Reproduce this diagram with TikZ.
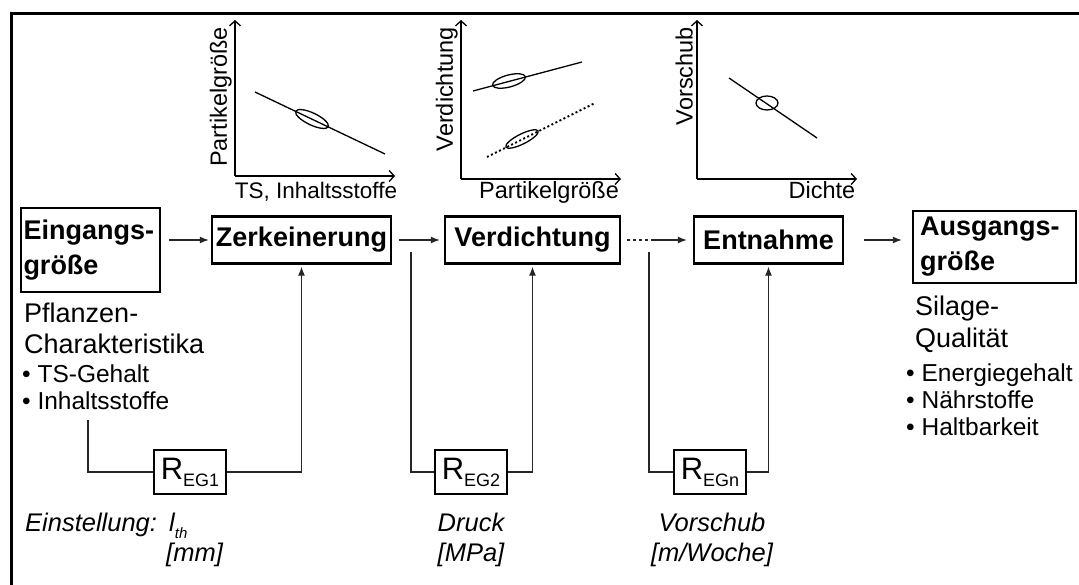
\documentclass[tikz,border=0pt]{standalone}
\usepackage{fontspec}
\setmainfont{Liberation Sans}
\usetikzlibrary{arrows.meta}
\newcommand{\fsz}[1]{\fontsize{#1}{#1}\selectfont}
\newcommand{\Rsub}[1]{{\fsz{31}R}\raisebox{-7pt}{\fsz{18}#1}}
\begin{document}
\begin{tikzpicture}[x=1pt,y=-1pt,
  blk/.style={draw, line width=2.4pt, inner sep=0pt, font=\bfseries\fontsize{27}{35}\selectfont},
  rbox/.style={draw, line width=2.4pt, minimum width=72pt, minimum height=44pt, inner sep=0pt},
  conn/.style={line width=1.2pt, draw=black!85},
  arr/.style={conn, -{Latex[length=9pt,width=7pt]}},
  axis/.style={line width=1.3pt, -{Straight Barb[length=5pt,width=11pt]}},
  curve/.style={line width=1.3pt},
  txt/.style={inner sep=0pt, font=\fsz{27}},
  small/.style={inner sep=0pt, font=\fsz{24.5}},
  ax/.style={inner sep=0pt, font=\fsz{23.5}},
  note/.style={inner sep=0pt, font=\fsz{25.5}\itshape},
]
\useasboundingbox (0,0) rectangle (1079,585);

% outer frame
\draw[line width=3pt] (11,600) -- (11,14) -- (1100,14);

% process blocks
\node[blk, minimum width=139pt, minimum height=84pt, text width=134pt, align=left] (ein) at (90.5,250) {Eingangs-\\größe};
\node[blk, minimum width=179pt, minimum height=47pt] (zer) at (301.5,240) {Zerkeinerung};
\node[blk, minimum width=175pt, minimum height=47pt] (ver) at (532.5,240) {Verdichtung};
\node[blk, minimum width=149pt, minimum height=47pt] (ent) at (768.5,240) {Entnahme};
\node[blk, minimum width=163pt, minimum height=72pt, text width=149pt, align=left] (aus) at (994.5,247) {Ausgangs-\\größe};

% main flow
\draw[arr, shorten <=8pt, shorten >=2pt] (ein.east |- zer.west) -- (zer.west);
\draw[arr, shorten <=7pt, shorten >=4pt] (zer.east) -- (ver.west);
\coordinate (mid) at (653,240);
\draw[conn, dash pattern=on 3pt off 3pt, shorten <=6pt] (ver.east) -- (mid);
\draw[arr, shorten >=6pt] (mid) -- (ent.west);
\draw[arr, shorten <=20pt, shorten >=10pt] (ent.east) -- (ent.east -| aus.west);

% input description
\node[txt, anchor=base west] (pfl) at (24,323) {Pflanzen-};
\node[txt, anchor=base west] (cha) at (24,353) {Charakteristika};
\node[small, anchor=base west] (ts) at (22,382) {• TS-Gehalt};
\node[small, anchor=base west] (inh) at (22,409) {• Inhaltsstoffe};

% output description
\node[txt, anchor=base west] (sil) at (915,316) {Silage-};
\node[txt, anchor=base west] (qua) at (915,347) {Qualität};
\node[small, anchor=base west] (en) at (906,381) {• Energiegehalt};
\node[small, anchor=base west] (na) at (906,408) {• Nährstoffe};
\node[small, anchor=base west] (ha) at (906,435) {• Haltbarkeit};

% control elements
\node[rbox] (r1) at (190,472) {\Rsub{EG1}};
\node[rbox] (r2) at (471,472) {\Rsub{EG2}};
\node[rbox] (r3) at (710,472) {\Rsub{EGn}};

\coordinate (s1) at (88,420);
\coordinate (s2) at (411,252);
\coordinate (s3) at (649,252);
\draw[conn] (s1) |- (r1.west);
\draw[arr, shorten >=2pt] (r1.east) -| (zer.south);
\draw[conn] (s2) |- (r2.west);
\draw[arr, shorten >=2pt] (r2.east) -| (ver.south);
\draw[conn] (s3) |- (r3.west);
\draw[arr, shorten >=2pt] (r3.east) -| (ent.south);

% settings
\node[note, anchor=base west] (set) at (25,531) {Einstellung:};
\node[note, anchor=base west] (lth) at (169,531) {l\raisebox{-7pt}{\fsz{15}th}};
\node[note, anchor=base west] (mm) at (166,561) {[mm]};
\node[note, anchor=base] (dru) at (471,531) {Druck};
\node[note, anchor=base] (mpa) at (471,561) {[MPa]};
\node[note, anchor=base] (vor) at (712,531) {Vorschub};
\node[note, anchor=base] (mwo) at (712,561) {[m/Woche]};

% diagram 1: particle size over dry matter
\draw[axis] (235,176) -- (235,20);
\draw[axis] (235,176) -- (395,176);
\node[ax, rotate=90, anchor=south east] at (232,27) {Partikelgröße};
\node[ax, anchor=base, font=\fsz{22.5}] at (316,199) {TS, Inhaltsstoffe};
\draw[curve] (255,92) -- (385,154);
\draw[curve, rotate around={-25.5:(312,119)}] (312,119) ellipse [x radius=18pt, y radius=6pt];

% diagram 2: compaction over particle size
\draw[axis] (461,179) -- (461,20);
\draw[axis] (461,179) -- (621,179);
\node[ax, rotate=90, anchor=south east] at (458,27) {Verdichtung};
\node[ax, anchor=base] at (549,199) {Partikelgröße};
\draw[curve] (473,91) -- (582,62);
\draw[curve, rotate around={14.9:(509,81)}] (509,81) ellipse [x radius=17pt, y radius=6pt];
\draw[line width=2pt, dash pattern=on 2pt off 2.5pt] (487,157) -- (595,103);
\draw[curve, rotate around={26.6:(522,139)}] (522,139) ellipse [x radius=18pt, y radius=5pt];

% diagram 3: feed rate over density
\draw[axis] (697,179) -- (697,20);
\draw[axis] (697,179) -- (857,179);
\node[ax, rotate=90, anchor=south east] at (693,27) {Vorschub};
\node[ax, anchor=base] at (822,199) {Dichte};
\draw[curve] (729,78) -- (817,138);
\draw[curve] (767,103) ellipse [x radius=11pt, y radius=7pt];
\end{tikzpicture}
\end{document}
